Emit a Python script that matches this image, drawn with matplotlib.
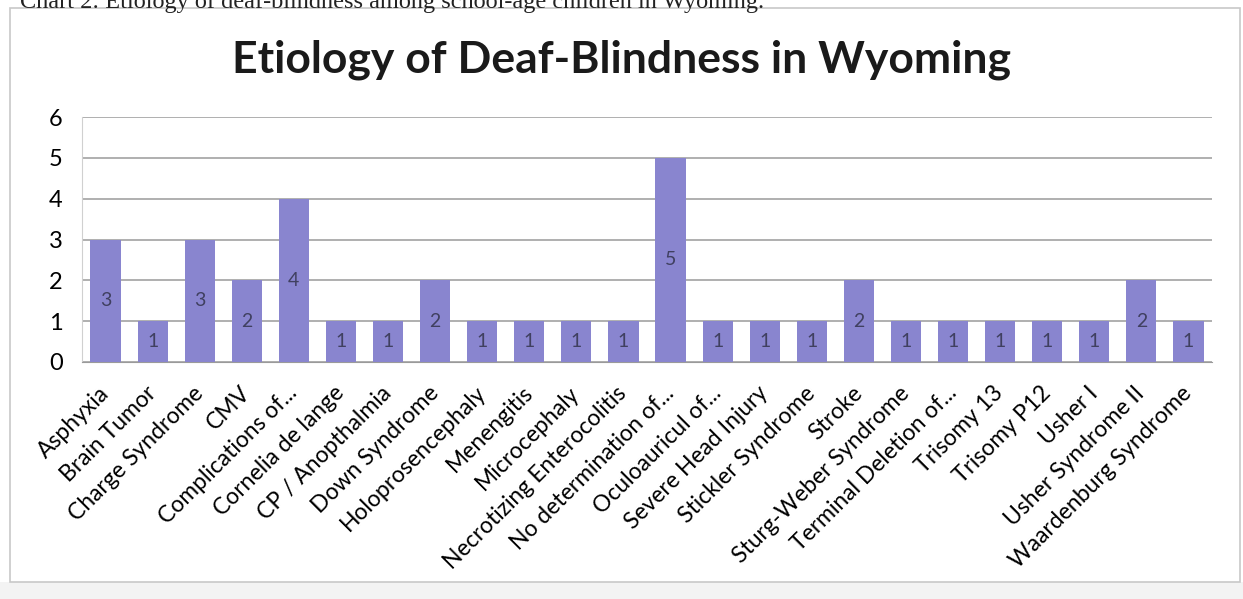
import matplotlib
matplotlib.use("Agg")
import matplotlib.pyplot as plt
from matplotlib.patches import Rectangle

categories = [
    "Asphyxia", "Brain Tumor", "Charge Syndrome", "CMV", "Complications of...",
    "Cornelia de lange", "CP / Anopthalmia", "Down Syndrome", "Holoprosencephaly",
    "Menengitis", "Microcephaly", "Necrotizing Enterocolitis", "No determination of...",
    "Oculoauricul of...", "Severe Head Injury", "Stickler Syndrome", "Stroke",
    "Sturg-Weber Syndrome", "Terminal Deletion of...", "Trisomy 13", "Trisomy P12",
    "Usher I", "Usher Syndrome II", "Waardenburg Syndrome",
]
counts = [3, 1, 3, 2, 4, 1, 1, 2, 1, 1, 1, 1, 5, 1, 1, 1, 2, 1, 1, 1, 1, 1, 2, 1]
yticks = [0, 1, 2, 3, 4, 5, 6]

FONT = "Lato"
BAR = "#8985cf"
W, H = 1243, 599

fig = plt.figure(figsize=(W / 100, H / 100), dpi=100)
fig.patch.set_facecolor("white")

# grey strip below the chart frame and the frame itself
fig.add_artist(Rectangle((0, 0), 1, 17 / H, transform=fig.transFigure,
                         facecolor="#f3f3f3", edgecolor="none", zorder=0))
fig.add_artist(Rectangle((10 / W, 17 / H), 1230 / W, (582 - 8) / H,
                         transform=fig.transFigure, facecolor="white",
                         edgecolor="#c8c8c8", linewidth=1.2, zorder=0))

# clipped caption at the very top
fig.text(20 / W, 1 - 8 / H,
         "Chart 2: Etiology of deaf-blindness among school-age children in Wyoming.",
         family="Liberation Serif", fontsize=17.5, va="baseline", ha="left",
         color="#222222")

ax = fig.add_axes([82 / W, 1 - 362 / H, (1212 - 82) / W, (362 - 117) / H])
x = list(range(len(categories)))
bars = ax.bar(x, counts, width=0.64, color=BAR, zorder=3)
for b, v in zip(bars, counts):
    ax.text(b.get_x() + b.get_width() / 2, v / 2, str(v), ha="center",
            va="center", fontsize=14, color="#404060", family=FONT, zorder=4)

ax.set_xlim(-0.5, len(categories) - 0.5)
ax.set_ylim(0, 6)
ax.set_yticks(yticks)
ax.set_yticklabels([str(t) for t in yticks], family=FONT, fontsize=17)
ax.set_xticks(x)
ax.set_xticklabels(categories, rotation=45, ha="right", va="center",
                   rotation_mode="anchor", family=FONT, fontsize=16.5)
ax.tick_params(length=0)
ax.tick_params(axis="x", pad=20)
ax.tick_params(axis="y", pad=14)
ax.grid(axis="y", color="#9a9a9a", linewidth=1.1, zorder=0)
for s in ["top", "right"]:
    ax.spines[s].set_visible(False)
ax.spines["left"].set_color("#d0d0d0")
ax.spines["bottom"].set_color("#9a9a9a")
ax.set_facecolor("white")

fig.text(622 / W, 1 - 60 / H, "Etiology of Deaf-Blindness in Wyoming",
         family=FONT, fontweight="bold", fontsize=32, ha="center",
         va="center", color="#1a1a1a")

fig.savefig("out.png", dpi=100)
